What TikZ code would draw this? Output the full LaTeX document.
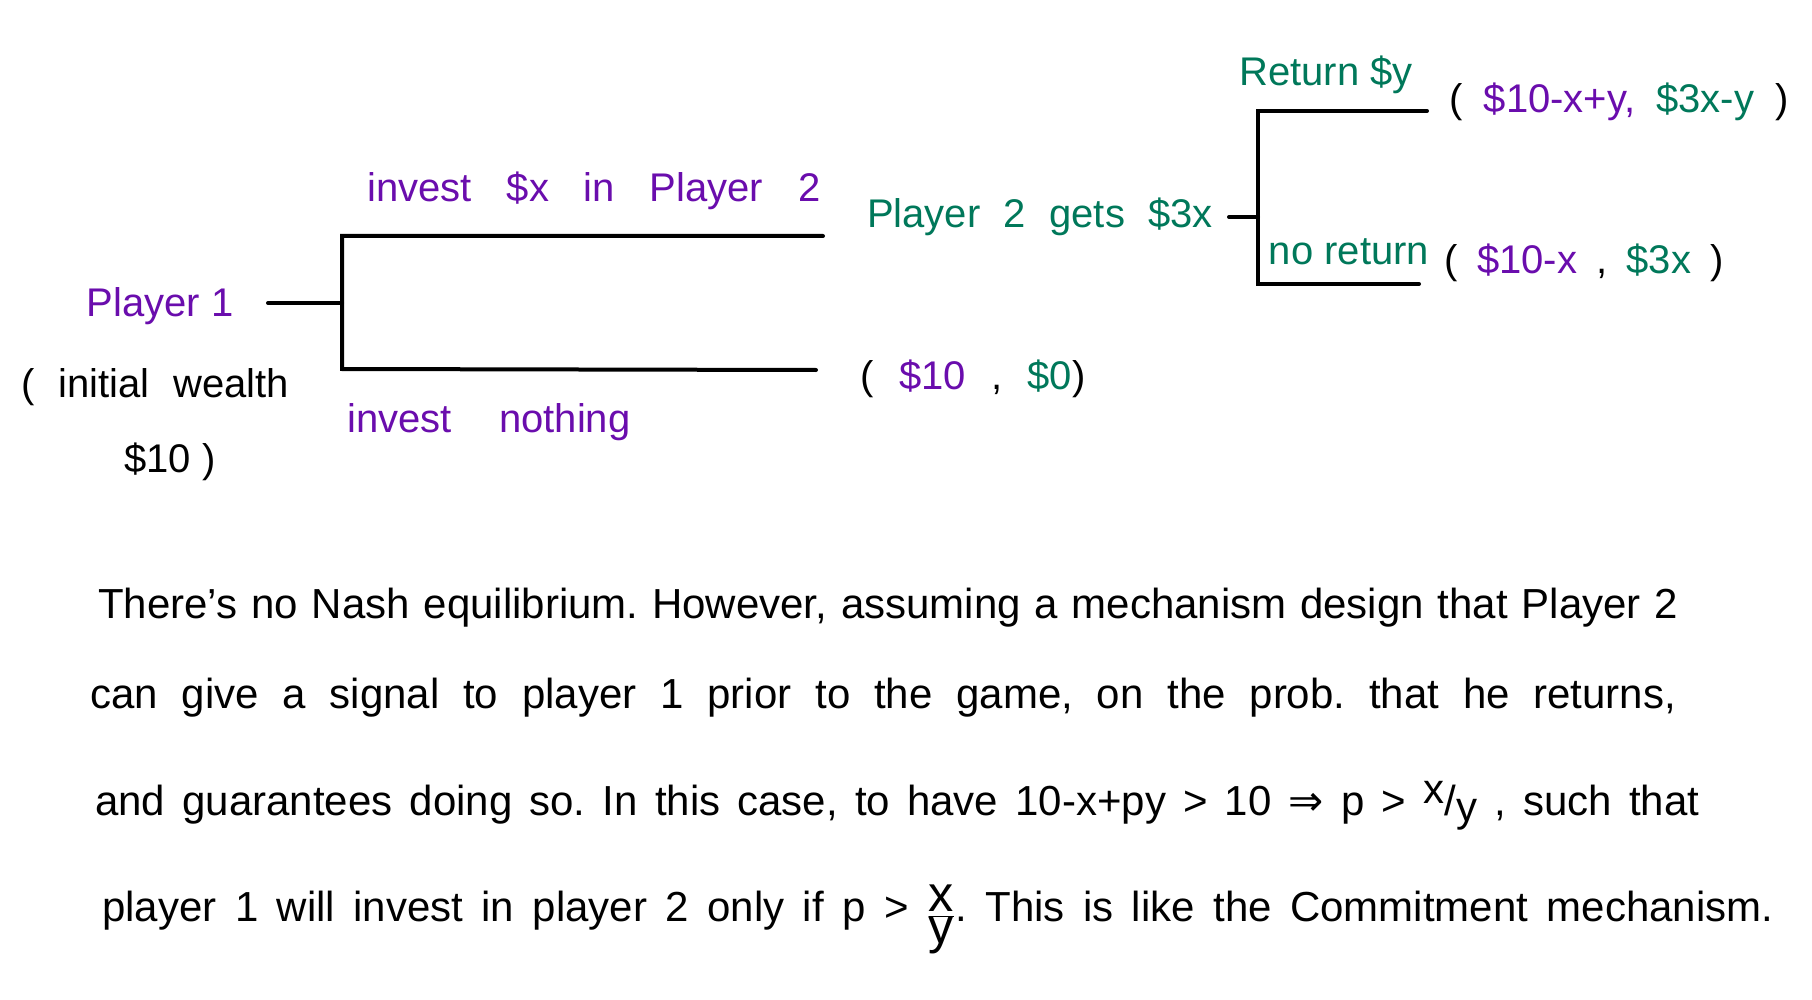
\documentclass[tikz,border=0pt]{standalone}
\usepackage{fontspec}
\usepackage{graphicx}
\setmainfont{Liberation Sans}
\newfontfamily\symfont{DejaVu Sans}
\definecolor{hpurple}{HTML}{6A0DAD}
\definecolor{hgreen}{HTML}{00785A}
\newcommand{\fitto}[2]{\makebox[#1][s]{#2}}
\frenchspacing
\begin{document}
\begin{tikzpicture}[x=1pt,y=-1pt,
  lbl/.style={inner sep=0pt, font=\fontsize{40}{46}\selectfont},
  para/.style={inner sep=0pt, anchor=base west, font=\fontsize{42}{48}\selectfont},
  branch/.style={line width=4pt, line cap=round}]
\useasboundingbox (0,0) rectangle (1812,1000);
\fill[white] (0,0) rectangle (1812,1000);
% Player 1 node
\node[lbl, text=hpurple] (p1) at (160,306) {Player 1};
\node[lbl] (p1w) at (155,387) {\fitto{268pt}{( initial wealth}};
\node[lbl] (p1m) at (170,462) {\$10 )};
\coordinate (s1a) at (268,303);
\coordinate (s1b) at (342,303);
\coordinate (t1) at (342,236);
\coordinate (b1) at (342,369);
\coordinate (t1e) at (823,236);
\coordinate (b1e) at (816,370);
\draw[branch] (s1a) -- (s1b);
\draw[branch] (t1e) -- (t1) -- (b1) -- (b1e);
\node[lbl, text=hpurple] (inv) at (594,191) {\fitto{453pt}{invest \$x in Player 2}};
\node[lbl, text=hpurple] (nothing) at (489,422) {\fitto{283pt}{invest nothing}};
\node[lbl] (pay0) at (973,379) {\fitto{225pt}{( {\color{hpurple}\$10} , {\color{hgreen}\$0})}};
% Player 2 node
\node[lbl, text=hgreen] (p2) at (1040,217) {\fitto{346pt}{Player 2 gets \$3x}};
\coordinate (s2a) at (1229,217);
\coordinate (s2b) at (1258,217);
\coordinate (t2) at (1258,111);
\coordinate (b2) at (1258,284);
\coordinate (t2e) at (1427,111);
\coordinate (b2e) at (1419,284);
\draw[branch] (s2a) -- (s2b);
\draw[branch] (t2e) -- (t2) -- (b2) -- (b2e);
\node[lbl, text=hgreen] (ret) at (1326,75) {Return \$y};
\node[lbl, text=hgreen] (noret) at (1349,252) {no return};
\node[lbl] (pay1) at (1619,102) {\fitto{339pt}{( {\color{hpurple}\$10-x+y,} {\color{hgreen}\$3x-y} )}};
\node[lbl] (pay2) at (1584,263) {\fitto{279pt}{( {\color{hpurple}\$10-x} , {\color{hgreen}\$3x} )}};
% paragraph
\node[para] (l1) at (98,618) {\fitto{1580pt}{There's no Nash equilibrium. However, assuming a mechanism design that Player 2}};
\node[para] (l2) at (90,708) {\fitto{1586pt}{can give a signal to player 1 prior to the game, on the prob. that he returns,}};
\node[para] (l3) at (95,815) {\fitto{1604pt}{and guarantees doing so. In this case, to have 10-x+py > 10 {\symfont ⇒} p > \raisebox{0.5ex}{x}/\raisebox{-0.3ex}{y} , such that}};
\node[para] (l4) at (102,921) {\fitto{1671pt}{player 1 will invest in player 2 only if p > \raisebox{-0.1ex}{\scalebox{1.2}{\(\frac{\mbox{x}}{\mbox{y}}\)}}. This is like the Commitment mechanism.}};
\end{tikzpicture}
\end{document}
